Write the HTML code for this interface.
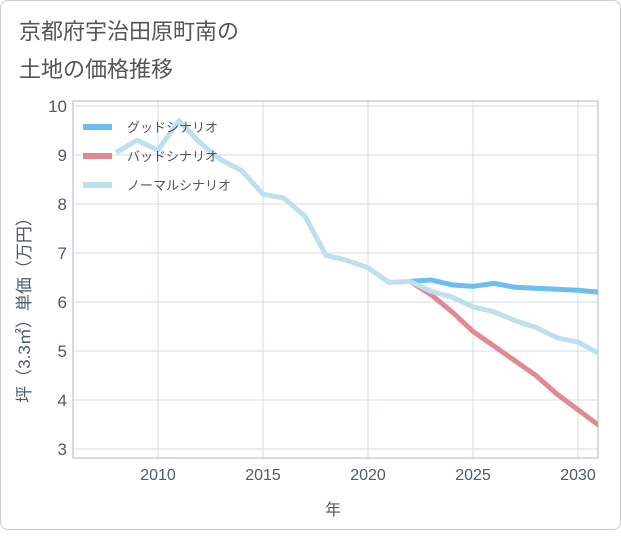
<!DOCTYPE html>
<html><head><meta charset="utf-8"><style>
body{margin:0;background:#fff}
#card{position:absolute;left:0;top:0;width:619px;height:528px;border:1px solid #ccc;border-radius:8px;background:#fff}
text{font-family:"Liberation Sans","Noto Sans CJK JP",sans-serif}
</style></head><body>
<div id="card">
<svg id="svg" width="621" height="530"></svg>
</div>
<script>
const years=[2008,2009,2010,2011,2012,2013,2014,2015,2016,2017,2018,2019,2020,2021,2022,2023,2024,2025,2026,2027,2028,2029,2030,2031];
const normal=[9.05,9.3,9.1,9.7,9.25,8.9,8.68,8.2,8.12,7.75,6.95,6.85,6.7,6.4,6.42,6.22,6.1,5.9,5.8,5.62,5.48,5.27,5.18,4.95];
const goodYears=[2022,2023,2024,2025,2026,2027,2028,2029,2030,2031];
const good=[6.42,6.45,6.35,6.32,6.38,6.3,6.28,6.26,6.24,6.2];
const bad=[6.42,6.15,5.8,5.4,5.1,4.8,4.5,4.12,3.8,3.48];
const yTicks=[3,4,5,6,7,8,9,10];
const xTicks=[2010,2015,2020,2025,2030];
const NS='http://www.w3.org/2000/svg',svg=document.getElementById('svg');
const L=72,R=597,T=100,B=457;
const x=v=>157+(v-2010)*21, y=v=>105+(10-v)*49;
function el(t,a,p){const e=document.createElementNS(NS,t);for(const k in a)e.setAttribute(k,a[k]);(p||svg).appendChild(e);return e;}
let t=el('text',{x:18,y:38,'font-size':22,fill:'#555'});t.textContent='京都府宇治田原町南の';

t=el('text',{x:18,y:76,'font-size':22,fill:'#555'});t.textContent='土地の価格推移';

let g=el('g',{});
yTicks.forEach(v=>{el('line',{x1:L,x2:R,y1:y(v),y2:y(v),stroke:'#d3dde8','stroke-width':1},g);
 const tx=el('text',{x:L-6,y:y(v)+6,'font-size':17,fill:'#4d5b6b','text-anchor':'end'});tx.textContent=v;
 });
xTicks.forEach(v=>{el('line',{x1:x(v),x2:x(v),y1:T,y2:B,stroke:'#d3dde8','stroke-width':1},g);
 const tx=el('text',{x:x(v),y:B+22,'font-size':16,fill:'#4d5b6b','text-anchor':'middle'});tx.textContent=v;
 });
const fr=el('rect',{x:L,y:T,width:R-L,height:B-T,fill:'none',stroke:'#aab8c8'});

function line(xs,vs,c,n){const p=el('polyline',{points:xs.map((a,i)=>x(a)+','+y(vs[i])).join(' '),fill:'none',stroke:c,'stroke-width':5,'stroke-linejoin':'round'});
 }
const cp=el('clipPath',{id:'c'});el('rect',{x:L,y:T,width:R-L,height:B-T},cp);
line(goodYears,bad,'#e08a92','bad-scenario-line');
line(goodYears,good,'#6bbdf2','good-scenario-line');
line(years,normal,'#bde0ee','normal-scenario-line');
svg.querySelectorAll('polyline').forEach(p=>p.setAttribute('clip-path','url(#c)'));
[['グッドシナリオ','#6bbdf2'],['バッドシナリオ','#e08a92'],['ノーマルシナリオ','#bde0ee']].forEach((d,i)=>{
 const lg=el('g',{});
 el('line',{x1:82,x2:111,y1:126+i*29,y2:126+i*29,stroke:d[1],'stroke-width':6},lg);
 const tx=el('text',{x:126,y:131+i*29,'font-size':13,fill:'#555'},lg);tx.textContent=d[0];});
t=el('text',{x:332,y:514,'font-size':16,fill:'#4d5b6b','text-anchor':'middle'});t.textContent='年';

t=el('text',{x:0,y:0,'font-size':17,fill:'#4d5b6b','text-anchor':'middle',transform:'translate(29,305) rotate(-90)'});t.textContent='坪（3.3㎡）単価（万円）';

</script>
</body></html>
